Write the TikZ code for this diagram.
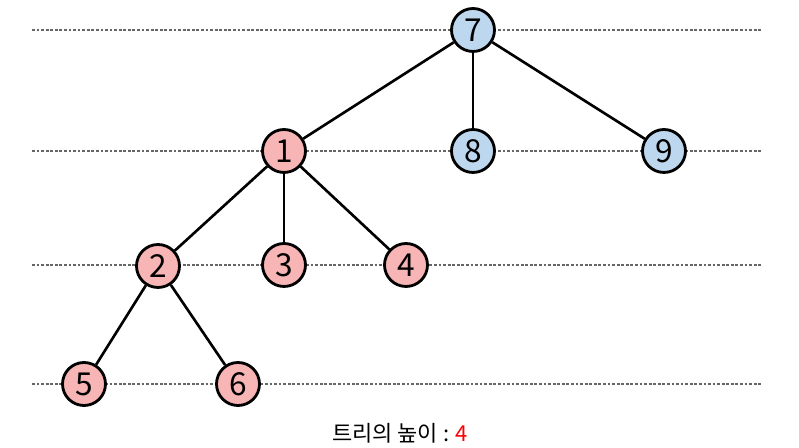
\documentclass[tikz,border=0pt]{standalone}
\usepackage{fontspec}
\setmainfont{Noto Sans CJK KR}
\usepackage{tikz}
\usetikzlibrary{positioning, calc}

\definecolor{lowpink}{HTML}{F8B5B5}
\definecolor{topblue}{HTML}{BDD7EE}

\tikzset{
    treenode/.style={circle, draw=black, line width=1.6pt, minimum size=0.86cm, inner sep=0pt, font=\fontsize{18}{18}\selectfont},
    pinknode/.style={treenode, fill=lowpink},
    bluenode/.style={treenode, fill=topblue},
    levelline/.style={dash pattern=on 1.6pt off 1pt, gray!80!black, line width=0.6pt},
    edge/.style={line width=1.5pt}
}

\begin{document}
\begin{tikzpicture}[x=0.02cm, y=-0.02cm]
    % Canvas
    \useasboundingbox (0,0) rectangle (799,448);

    % Level lines
    \foreach \lv in {30,151,265,384}
        \draw[levelline] (32,\lv) -- (762,\lv);

    % Nodes
    \node[bluenode] (n7) at (473,30) {7};
    \node[pinknode] (n1) at (284,151) {1};
    \node[bluenode] (n8) at (473,151) {8};
    \node[bluenode] (n9) at (664,151) {9};
    \node[pinknode] (n2) at (158,266) {2};
    \node[pinknode] (n3) at (284,265) {3};
    \node[pinknode] (n4) at (406,265) {4};
    \node[pinknode] (n5) at (84,384) {5};
    \node[pinknode] (n6) at (238,384) {6};

    % Edges
    \draw[edge] (n7) -- (n1);
    \draw[edge] (n7) -- (n8);
    \draw[edge] (n7) -- (n9);
    \draw[edge] (n1) -- (n2);
    \draw[edge] (n1) -- (n3);
    \draw[edge] (n1) -- (n4);
    \draw[edge] (n2) -- (n5);
    \draw[edge] (n2) -- (n6);

    % Caption
    \node[font=\fontsize{12.5}{12.5}\selectfont] (height) at (400,433) {트리의 높이 : \textcolor{red}{4}};
\end{tikzpicture}
\end{document}
